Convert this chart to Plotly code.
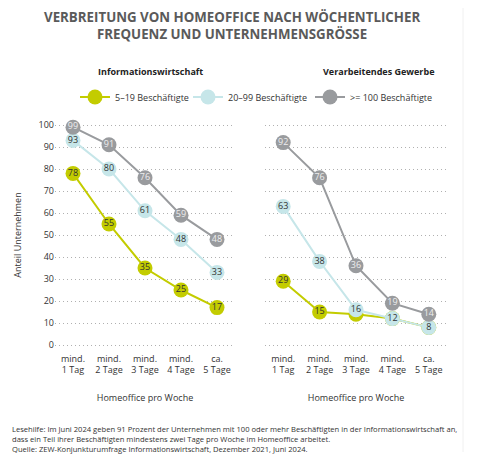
import plotly.graph_objects as go

categories = ["mind.<br>1 Tag", "mind.<br>2 Tage", "mind.<br>3 Tage", "mind.<br>4 Tage", "ca.<br>5 Tage"]
series_names = ["5–19 Beschäftigte", "20–99 Beschäftigte", ">= 100 Beschäftigte"]

# Informationswirtschaft
info_small = [78, 55, 35, 25, 17]
info_mid = [93, 80, 61, 48, 33]
info_large = [99, 91, 76, 59, 48]

# Verarbeitendes Gewerbe
prod_small = [29, 15, 14, 12, 8]
prod_mid = [63, 38, 16, 12, 8]
prod_large = [92, 76, 36, 19, 14]
# labels of green points hidden under the blue markers are not shown
prod_small_labels = ["29", "15", "", "", ""]

colors = ["#c3cc00", "#c6e6e9", "#999b9e"]
text_colors = ["#333333", "#333333", "#eeeeee"]
legend_ids = ["legend", "legend2", "legend3"]
legend_left = [75, 188, 310]  # px

# the page has an 8px body margin, so the figure is drawn 8px in from the corner
OFF = 8
W, H = 482 - OFF, 456 - OFF
FONT = "Open Sans"


def px_x(v):
    return (v - OFF) / W


def px_y(v):
    return 1 - (v - OFF) / H


fig = go.Figure()

panels = [
    ("x", "y", [info_small, info_mid, info_large], [None, None, None], True),
    ("x2", "y2", [prod_small, prod_mid, prod_large], [prod_small_labels, None, None], False),
]

for xa, ya, vals, labels, show in panels:
    for i, (v, lab) in enumerate(zip(vals, labels)):
        fig.add_trace(go.Scatter(
            x=categories, y=v,
            xaxis=xa, yaxis=ya,
            mode="lines+markers+text",
            name=series_names[i],
            showlegend=show,
            legend=legend_ids[i],
            text=lab if lab is not None else [str(n) for n in v],
            textposition="middle center",
            textfont=dict(size=9, color=text_colors[i], family=FONT),
            line=dict(color=colors[i], width=2),
            marker=dict(color=colors[i], size=15, line=dict(width=0)),
            hoverinfo="skip",
        ))

yrange = [-3, 103]
ydom = [px_y(351.6), px_y(118.4)]

axis_common = dict(
    type="category", range=[-0.5, 4.5],
    showgrid=False, zeroline=False, showline=False, ticks="",
    tickfont=dict(size=9, color="#333333", family=FONT),
    title=dict(text="Homeoffice pro Woche", font=dict(size=9, color="#333333", family=FONT), standoff=19),
)
yaxis_common = dict(
    range=yrange, tickvals=list(range(0, 101, 10)),
    showgrid=True, gridcolor="#b0b0b0", griddash="1px,3px", gridwidth=1,
    zeroline=False, showline=False, ticks="",
    tickfont=dict(size=9, color="#333333", family=FONT),
    domain=ydom,
)

legend_style = dict(
    orientation="h", xanchor="left", yanchor="middle", y=px_y(97),
    font=dict(size=9, color="#333333", family=FONT),
    itemwidth=30, bgcolor="rgba(0,0,0,0)",
)

fig.update_layout(
    width=W, height=H,
    margin=dict(l=0, r=0, t=0, b=0),
    paper_bgcolor="white", plot_bgcolor="white",
    font=dict(family=FONT, color="#333333"),
    xaxis=dict(axis_common, domain=[px_x(55), px_x(235)], anchor="y"),
    xaxis2=dict(axis_common, domain=[px_x(265), px_x(447)], anchor="y2"),
    yaxis=dict(yaxis_common, anchor="x",
               title=dict(text="Anteil Unternehmen", font=dict(size=9, color="#333333", family=FONT), standoff=15)),
    yaxis2=dict(yaxis_common, anchor="x2", showticklabels=False),
    showlegend=True,
)
for lid, left in zip(legend_ids, legend_left):
    fig.update_layout({lid: dict(legend_style, x=px_x(left))})

annotations = [
    dict(text="<b>VERBREITUNG VON HOMEOFFICE NACH WÖCHENTLICHER<br>FREQUENZ UND UNTERNEHMENSGRÖSSE</b>",
         x=px_x(232), y=px_y(26), font=dict(size=13.3, color="#5a5a5a", family=FONT), align="center"),
    dict(text="<b>Informationswirtschaft</b>", x=px_x(150), y=px_y(72),
         font=dict(size=9, color="#222222", family=FONT)),
    dict(text="<b>Verarbeitendes Gewerbe</b>", x=px_x(378), y=px_y(72),
         font=dict(size=9, color="#222222", family=FONT)),
    dict(text="Lesehilfe: Im Juni 2024 geben 91 Prozent der Unternehmen mit 100 oder mehr Beschäftigten in der Informationswirtschaft an,<br>"
              "dass ein Teil ihrer Beschäftigten mindestens zwei Tage pro Woche im Homeoffice arbeitet.<br>"
              "Quelle: ZEW-Konjunkturumfrage Informationswirtschaft, Dezember 2021, Juni 2024.",
         x=px_x(10), y=px_y(439), xanchor="left", align="left",
         font=dict(size=7.6, color="#333333", family=FONT)),
]
for a in annotations:
    a.setdefault("xanchor", "center")
    a.update(xref="paper", yref="paper", yanchor="middle", showarrow=False)
fig.update_layout(annotations=annotations)

fig.add_shape(type="line", xref="paper", yref="paper",
              x0=px_x(463), x1=px_x(463), y0=px_y(452), y1=1,
              line=dict(color="#f0f0f0", width=1))

fig.write_html("out.html")
